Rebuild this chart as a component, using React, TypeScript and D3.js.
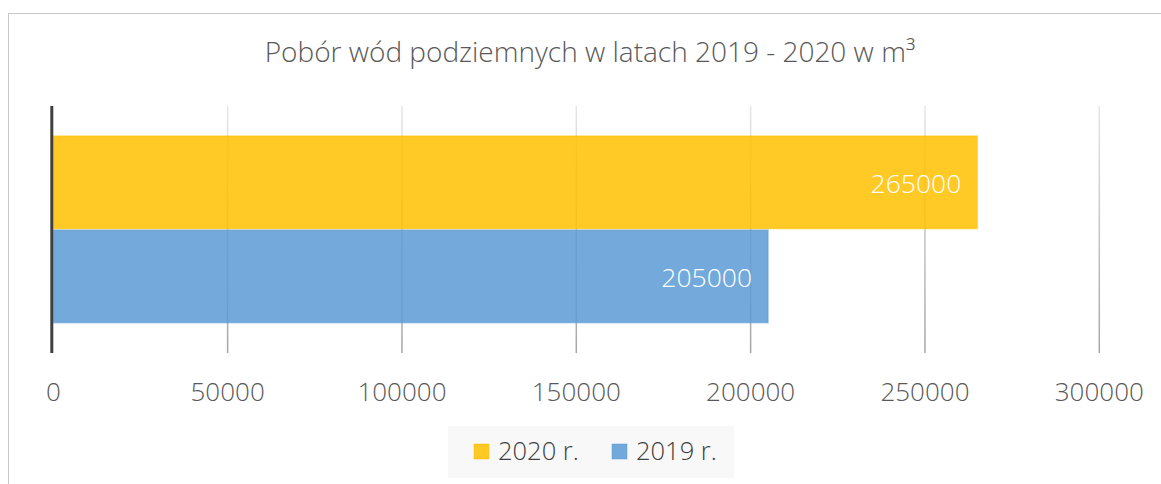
import React from "react";
import * as d3 from "d3";

const title = "Pobór wód podziemnych w latach 2019 - 2020 w m³";
const seriesNames = ["2020 r.", "2019 r."];
const seriesValues = [265000, 205000];
const seriesColors = ["#FFC000", "#5B9BD5"];
const xTicks = [0, 50000, 100000, 150000, 200000, 250000, 300000];

const W = 1161;
const H = 484;

export default function App() {
  const x = d3.scaleLinear().domain([0, 300000]).range([53.3, 1099.3]);
  const plotTop = 106;
  const plotBottom = 353;
  const y = d3
    .scaleBand<string>()
    .domain(seriesNames)
    .range([136, 322.7])
    .paddingInner(0.015);
  const font = "'Open Sans', 'Segoe UI', sans-serif";
  const legendItems = [
    { name: seriesNames[0], color: seriesColors[0], sx: 474, tx: 498 },
    { name: seriesNames[1], color: seriesColors[1], sx: 612, tx: 636 },
  ];
  return (
    <svg
      width={W}
      height={H}
      style={{ position: "absolute", left: 0, top: 0, background: "#fff" }}
    >
      <defs>
        <linearGradient id="gridGrad" x1="0" y1="0" x2="0" y2="1">
          <stop offset="0" stopColor="#e6e6e6" />
          <stop offset="1" stopColor="#a6a6a6" />
        </linearGradient>
      </defs>
      <rect x={8.5} y={13.5} width={W} height={H} fill="#fff" stroke="#c9c9c9" strokeWidth={1} />
      <text
        x={590}
        y={62}
        textAnchor="middle"
        fontFamily={font}
        fontSize={28}
        fontWeight={300}
        fill="#595959"
      >
        {title}
      </text>
      {xTicks.slice(1).map((t) => (
        <rect
          key={"g" + t}
          x={x(t) - 0.75}
          y={plotTop}
          width={1.5}
          height={plotBottom - plotTop}
          fill="url(#gridGrad)"
        />
      ))}
      {seriesNames.map((n, i) => (
        <g key={n}>
          <rect
            x={x(0)}
            y={y(n)!}
            width={x(seriesValues[i]) - x(0)}
            height={y.bandwidth()}
            fill={seriesColors[i]}
            fillOpacity={0.85}
            stroke={seriesColors[i]}
            strokeOpacity={0.5}
            strokeWidth={1.5}
          />
          <text
            x={x(seriesValues[i]) - 16}
            y={y(n)! + y.bandwidth() / 2 + 10.5}
            textAnchor="end"
            fontFamily={font}
            fontSize={26.5}
            fontWeight={300}
            fill="#ffffff"
          >
            {seriesValues[i]}
          </text>
        </g>
      ))}
      <line x1={51.8} x2={51.8} y1={plotTop} y2={plotBottom} stroke="#404040" strokeWidth={3} />
      {xTicks.map((t) => (
        <text
          key={"t" + t}
          x={x(t)}
          y={400.5}
          textAnchor="middle"
          fontFamily={font}
          fontSize={26}
          fontWeight={300}
          fill="#595959"
        >
          {t}
        </text>
      ))}
      <rect x={448} y={426} width={286} height={52} fill="#f8f8f8" />
      {legendItems.map((l) => (
        <g key={l.name}>
          <rect x={l.sx} y={444} width={15} height={15} fill={l.color} fillOpacity={0.85} stroke={l.color} strokeOpacity={0.5} />
          <text x={l.tx} y={459.5} fontFamily={font} fontSize={25.5} fontWeight={300} fill="#404040">
            {l.name}
          </text>
        </g>
      ))}
    </svg>
  );
}
